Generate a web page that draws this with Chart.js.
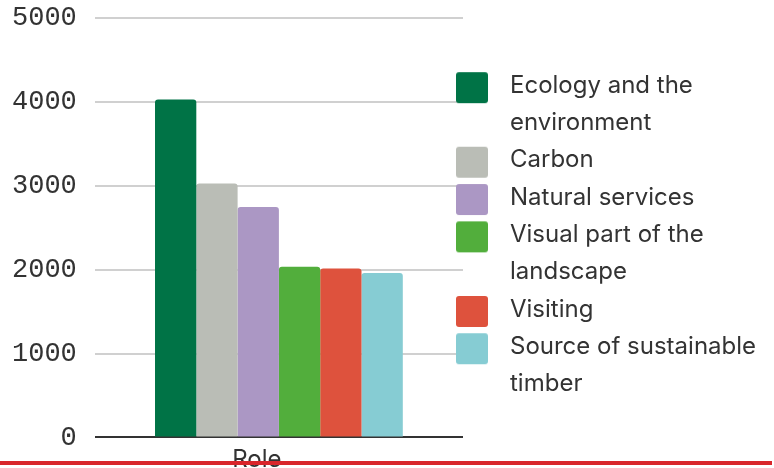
<!DOCTYPE html>
<html>
<head>
<meta charset="utf-8">
<script src="https://cdn.jsdelivr.net/npm/chart.js@4/dist/chart.umd.min.js"></script>
<style>
  html, body { margin: 0; padding: 0; background: #ffffff; }
  body { width: 774px; height: 468px; overflow: hidden; position: relative; }
  #wrap { position: absolute; left: 0; top: 0; width: 774px; height: 483px; }
  #rule { position: absolute; left: 0; top: 461px; width: 772px; height: 4px; background: #d9262b; }
</style>
</head>
<body>
<div id="wrap"><canvas id="chart"></canvas></div>
<div id="rule"></div>
<script>
// Categories and series
const categories = ['Role'];
const seriesNames = [
  'Ecology and the environment',
  'Carbon',
  'Natural services',
  'Visual part of the landscape',
  'Visiting',
  'Source of sustainable timber'
];
const seriesValues = [4030, 3030, 2750, 2035, 2015, 1960];
const seriesColors = ['#007346', '#babdb6', '#ab97c4', '#52ae3c', '#de523d', '#86ccd3'];
// Legend text, wrapped onto lines
const legendLines = [
  ['Ecology and the', 'environment'],
  ['Carbon'],
  ['Natural services'],
  ['Visual part of the', 'landscape'],
  ['Visiting'],
  ['Source of sustainable', 'timber']
];
// Value axis ticks
const yMin = 0;
const yMax = 5000;
const yStep = 1000;

const textColor = '#333333';

// Rounded colour swatch used as the legend marker
function swatch(color) {
  const c = document.createElement('canvas');
  c.width = 42; c.height = 37;
  const g = c.getContext('2d');
  g.fillStyle = color;
  g.beginPath();
  g.roundRect(0, 5, 32, 31, 3);
  g.fill();
  return c;
}
const swatches = seriesColors.map(swatch);

// Let the legend markers hang slightly into the plot margin
const legendHang = {
  id: 'legendHang',
  afterLayout(chart) {
    if (chart.legend) chart.legend.left -= 7;
  }
};

const datasets = seriesNames.map((name, i) => ({
  label: name,
  data: [seriesValues[i]],
  backgroundColor: seriesColors[i],
  borderWidth: 0,
  borderRadius: 3,
  borderSkipped: 'start',
  categoryPercentage: 0.673,
  barPercentage: 1.0
}));

new Chart(document.getElementById('chart'), {
  type: 'bar',
  data: { labels: categories, datasets },
  plugins: [legendHang],
  options: {
    responsive: true,
    maintainAspectRatio: false,
    animation: false,
    events: [],
    layout: { padding: { left: -6, right: 11, top: 0, bottom: 0 } },
    plugins: {
      tooltip: { enabled: false },
      legend: {
        position: 'right',
        align: 'center',
        maxWidth: 300,
        labels: {
          usePointStyle: true,
          pointStyleWidth: 42,
          padding: 0,
          color: textColor,
          font: { family: 'Inter', size: 24, lineHeight: '37.3px' },
          generateLabels: () => legendLines.map((lines, i) => ({
            text: lines,
            fillStyle: seriesColors[i],
            strokeStyle: seriesColors[i],
            lineWidth: 0,
            pointStyle: swatches[i],
            fontColor: textColor,
            hidden: false,
            datasetIndex: i
          }))
        }
      }
    },
    scales: {
      x: {
        grid: { display: false, drawTicks: false },
        border: { display: false },
        ticks: {
          color: textColor,
          font: { family: 'Inter', size: 24, lineHeight: 1.9 },
          padding: 0,
          labelOffset: -22
        }
      },
      y: {
        min: yMin,
        max: yMax,
        border: { display: false },
        grid: {
          drawTicks: false,
          lineWidth: 2,
          color: ctx => (ctx.tick && ctx.tick.value === 0) ? '#333333' : '#d0d0d0'
        },
        ticks: {
          stepSize: yStep,
          color: textColor,
          padding: 18,
          font: { family: 'Liberation Mono', size: 27, lineHeight: 0.02 },
          callback: v => String(v)
        }
      }
    }
  }
});
</script>
</body>
</html>
